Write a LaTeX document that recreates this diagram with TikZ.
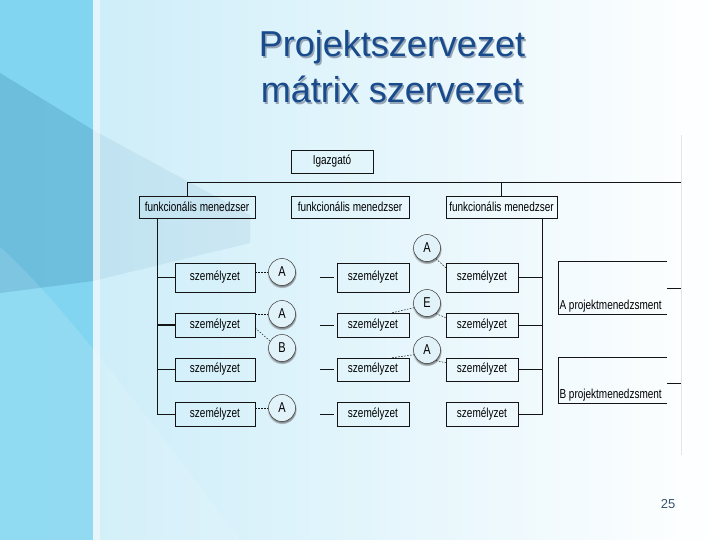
\documentclass[tikz,border=0pt]{standalone}
\usepackage{fontspec}
\setmainfont{Liberation Sans}
\usetikzlibrary{calc,shadows}
\definecolor{slidecyan}{RGB}{112,208,240}
\definecolor{slidepale}{RGB}{198,235,248}
\definecolor{slidewedge}{RGB}{40,110,150}
\definecolor{slidetitle}{RGB}{24,74,140}
\definecolor{slideshade}{RGB}{150,165,182}
\definecolor{slidenum}{RGB}{60,82,110}
\definecolor{orgline}{RGB}{20,20,20}
\definecolor{rolefill}{RGB}{226,242,249}
\newcommand{\orgfont}{\fontsize{10}{11}\selectfont}
\newcommand{\orgtext}[1]{\scalebox{1}[1.3]{#1}}
\tikzset{
  head box/.style={
    draw=orgline,
    line width=0.5pt,
    inner sep=1pt,
    minimum height=22pt,
    font=\orgfont,
  },
  staff box/.style={
    draw=orgline,
    line width=0.5pt,
    inner sep=1pt,
    font=\orgfont,
  },
  role circle/.style={
    circle,
    draw=orgline!85,
    line width=0.5pt,
    minimum size=27pt,
    inner sep=0pt,
    fill=rolefill,
    circular drop shadow={shadow xshift=0pt,shadow yshift=-1.3pt,fill=gray!70!black,opacity=.7},
    font=\fontsize{11}{12}\selectfont,
  },
  org line/.style={draw=orgline, line width=0.6pt},
  role link/.style={draw=orgline, line width=0.5pt, dash pattern=on 1.6pt off 1.4pt},
  title text/.style={anchor=base, text=slidetitle, font=\fontsize{36}{40}\selectfont},
}

\begin{document}
\begin{tikzpicture}[x=1pt,y=-1pt]
  \useasboundingbox (0,0) rectangle (720,540);
  % background of the slide
  \fill[left color=slidepale, right color=white] (0,0) rectangle (720,540);
  \fill[slidecyan, opacity=.8] (0,0) rectangle (93,540);
  \fill[slidewedge, opacity=.22] (0,73) -- (93,130) -- (93,281) -- (0,293) -- cycle;
  \fill[slidewedge, opacity=.08] (93,130) -- (250,215) -- (250,243) -- (93,281) -- cycle;
  \fill[white, opacity=.12] (0,247) .. controls (60,300) and (150,420) .. (240,540) -- (0,540) -- cycle;
  \fill[white, opacity=.45] (93,0) rectangle (100,540);
  \draw[gray!20] (681,135) -- (681,455);

  % title
  \node[title text, text=slideshade] at (393.5,58.5) {Projektszervezet};
  \node[title text, text=slideshade] at (393.5,104.5) {mátrix szervezet};
  \node[title text] (titleA) at (392,57) {Projektszervezet};
  \node[title text] (titleB) at (392,103) {mátrix szervezet};

  % heads
  \node[head box, minimum width=82pt, minimum height=23pt] (igazgato) at (332,161.5) {\orgtext{Igazgató}};
  \node[head box, minimum width=116pt] (funkL) at (197,207) {\orgtext{funkcionális menedzser}};
  \node[head box, minimum width=118pt] (funkM) at (350,207) {\orgtext{funkcionális menedzser}};
  \node[head box, minimum width=111pt] (funkR) at (501.5,207) {\orgtext{funkcionális menedzser}};

  % staff rows
  \foreach \i/\y/\h in {1/277.5/29pt,2/325/24pt,3/369.5/23pt,4/414/24pt} {
    \node[staff box, minimum width=80pt, minimum height=\h] (szL\i) at (215,\y) {\orgtext{személyzet}};
    \node[staff box, minimum width=72pt, minimum height=\h] (szM\i) at (373,\y) {\orgtext{személyzet}};
    \node[staff box, minimum width=72pt, minimum height=\h] (szR\i) at (482,\y) {\orgtext{személyzet}};
  }

  % project managers
  \node[minimum width=109pt, minimum height=52pt, inner sep=0pt,
    label={[anchor=south west, inner sep=1.5pt, font=\orgfont]south west:\orgtext{A projektmenedzsment}}] (pmA) at (612.5,288) {};
  \node[minimum width=109pt, minimum height=45pt, inner sep=0pt,
    label={[anchor=south west, inner sep=1.5pt, font=\orgfont]south west:\orgtext{B projektmenedzsment}}] (pmB) at (612.5,380.5) {};
  \draw[org line] (pmA.north west) -- (pmA.south west) -- (pmA.south east);
  \draw[org line] (pmB.north west) -- (pmB.south west) -- (pmB.south east);
  \draw[orgline, line width=1.3pt] (pmA.north west) -- (pmA.north east);
  \draw[orgline, line width=1.3pt] (pmB.north west) -- (pmB.north east);

  % shadow edges
  \foreach \b in {igazgato,funkL,funkM,funkR} {
    \draw[orgline, line width=1.3pt] (\b.south west) -- (\b.south east) -- (\b.north east);
  }
  \foreach \i in {1,...,4} {
    \draw[orgline, line width=1.3pt] (szL\i.south west) -- (szL\i.south east);
    \draw[orgline, line width=1.3pt] (szM\i.south west) -- (szM\i.south east);
    \draw[orgline, line width=1.3pt] (szR\i.south west) -- (szR\i.south east);
  }

  % roles
  \node[role circle] (kA1) at (282,272) {\orgtext{A}};
  \node[role circle] (kA2) at (282,314) {\orgtext{A}};
  \node[role circle] (kB1) at (282,348) {\orgtext{B}};
  \node[role circle] (kA4) at (282,408) {\orgtext{A}};
  \node[role circle] (kA5) at (427,248) {\orgtext{A}};
  \node[role circle] (kE1) at (427,303) {\orgtext{E}};
  \node[role circle] (kA7) at (427,350) {\orgtext{A}};

  % lines
  \coordinate (edgeTop) at (681,182);
  \coordinate (edgeA) at (681,288);
  \coordinate (edgeB) at (681,383);
  \draw[org line] (edgeTop) -| ([xshift=-10pt]funkL.north);
  \draw[org line] (funkR.north) -- (funkR.north |- edgeTop);
  \draw[org line] ([xshift=19pt]funkL.south west) coordinate (trunkL) |- (szL4.west);
  \draw[org line] ([xshift=-15pt]funkR.south east) coordinate (trunkR) |- (szR4.east);
  \draw[orgline, line width=1.3pt] (szL1.west) -- (szL1.west -| trunkL);
  \draw[orgline, line width=1.3pt] (szL2.west) -- (szL2.west -| trunkL);
  \draw[org line] (szL3.west) -- (szL3.west -| trunkL);
  \foreach \i in {1,...,3} {
    \draw[org line] (szR\i.east) -- (szR\i.east -| trunkR);
  }
  \foreach \i in {1,...,4} {
    \draw[org line] ([xshift=-3pt]szM\i.west) -- ++(-14,0);
  }
  \draw[org line] (pmA.east |- edgeA) -- (edgeA);
  \draw[org line] (pmB.east |- edgeB) -- (edgeB);

  \draw[role link] (szL1.east |- kA1) -- (kA1.west);
  \draw[role link] (szL2.east |- kA2) -- (kA2.west);
  \draw[role link] ([yshift=-3pt]szL2.east) -- (kB1.150);
  \draw[role link] (szL4.east |- kA4) -- (kA4.west);
  \draw[role link] (kA5.-50) -- ([yshift=-5pt]szR1.north west);
  \draw[role link] ([xshift=-17pt]szM2.north east) -- (kE1.200);
  \draw[role link] (kE1.-50) -- ([yshift=-5pt]szR2.north west);
  \draw[role link] ([xshift=-17pt]szM3.north east) -- (kA7.200);
  \draw[role link] (kA7.-50) -- ([yshift=-5pt]szR3.north west);

  \node[text=slidenum, font=\fontsize{13}{13}\selectfont] (pageno) at (668,504) {25};
\end{tikzpicture}
\end{document}
